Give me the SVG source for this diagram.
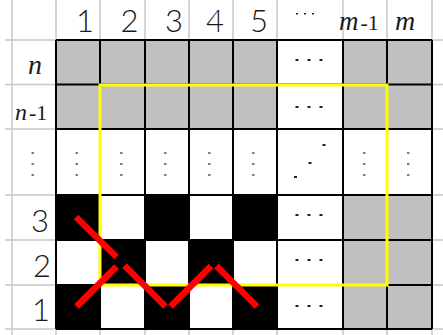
<svg xmlns="http://www.w3.org/2000/svg" width="443" height="335" viewBox="0 0 443 335">
<style>
.g{fill:#c0c0c0}
.w{fill:#ffffff}
.b{fill:#000000}
.thin{stroke:#c8c8c8;stroke-width:1.5;fill:none}
.grid{stroke:#000;stroke-width:2;fill:none}
.dig{font-family:Lato,"Liberation Sans",Arial,sans-serif;font-weight:300;font-size:31px;fill:#1a1a1a;text-anchor:end}
.it{font-family:"Liberation Serif","Times New Roman",serif;font-style:italic;fill:#1a1a1a}
.sm{font-family:"Liberation Serif","Times New Roman",serif;fill:#1a1a1a}
.d3{fill:#222}
.dv{fill:#7a7a9a}
.red{stroke:#ff0000;stroke-width:6.5;stroke-linecap:butt;fill:none}
</style>
<rect x="0" y="0" width="443" height="335" fill="#fff"/>
<g id="sheet-gridlines" class="thin">
<path d="M12,0V335 M56,0V40 M100,0V40 M145,0V40 M189,0V40 M233,0V40 M277,0V40 M343,0V40 M387,0V40 M432,0V40
M56,329V335 M100,329V335 M145,329V335 M189,329V335 M233,329V335 M277,329V335 M343,329V335 M387,329V335 M432,329V335
M5,40H56 M5,84.5H56 M5,129H56 M5,195H56 M5,240H56 M5,285H56 M5,329H56
M432,40H443 M432,84.5H443 M432,129H443 M432,195H443 M432,240H443 M432,285H443 M432,329H443"/>
</g>
<g id="cells">
<g id="row-n">
<rect class="g" x="56" y="40" width="221" height="44.5"/>
<rect class="g" x="343" y="40" width="89" height="44.5"/>
</g>
<g id="row-n-1">
<rect class="g" x="56" y="84.5" width="221" height="44.5"/>
<rect class="g" x="343" y="84.5" width="89" height="44.5"/>
</g>
<g id="row-3">
<rect class="b" x="56" y="195" width="44" height="45"/>
<rect class="b" x="145" y="195" width="44" height="45"/>
<rect class="b" x="233" y="195" width="44" height="45"/>
<rect class="g" x="343" y="195" width="89" height="45"/>
</g>
<g id="row-2">
<rect class="b" x="100" y="240" width="45" height="45"/>
<rect class="b" x="189" y="240" width="44" height="45"/>
<rect class="g" x="343" y="240" width="89" height="45"/>
</g>
<g id="row-1">
<rect class="b" x="56" y="285" width="44" height="44"/>
<rect class="b" x="145" y="285" width="44" height="44"/>
<rect class="b" x="233" y="285" width="44" height="44"/>
<rect class="g" x="343" y="285" width="89" height="44"/>
</g>
</g>
<g id="cell-borders" class="grid">
<path d="M56,40H432 M56,84.5H432 M56,129H432 M56,195H432 M56,240H432 M56,285H432 M56,329H432
M56,40V329 M100,40V329 M145,40V329 M189,40V329 M233,40V329 M277,40V329 M343,40V329 M387,40V329 M432,40V329"/>
</g>
<g id="headers">
<text class="dig" x="94" y="32">1</text>
<text class="dig" x="138.5" y="32">2</text>
<text class="dig" x="183" y="32">3</text>
<text class="dig" x="224" y="32">4</text>
<text class="dig" x="268" y="32">5</text>
<rect class="d3" x="296" y="13" width="2" height="1.5"/>
<rect class="d3" x="304" y="13" width="2" height="1.5"/>
<rect class="d3" x="312" y="13" width="2" height="1.5"/>
<text x="339" y="30"><tspan class="it" font-size="27">m</tspan><tspan class="sm" font-size="22" dx="2">-1</tspan></text>
<text class="it" x="395" y="30" font-size="28">m</text>
<text class="it" x="28" y="74" font-size="28">n</text>
<text x="15" y="120"><tspan class="it" font-size="24">n</tspan><tspan class="sm" font-size="22" dx="2">-1</tspan></text>
<text class="dig" x="49" y="232">3</text>
<text class="dig" x="51" y="277">2</text>
<text class="dig" x="50" y="321">1</text>
</g>
<g id="ellipses">
<rect class="d3" x="295.5" y="59" width="3" height="2"/><rect class="d3" x="307.5" y="59" width="3" height="2"/><rect class="d3" x="319.5" y="59" width="3" height="2"/>
<rect class="d3" x="295.5" y="106" width="3" height="2"/><rect class="d3" x="307.5" y="106" width="3" height="2"/><rect class="d3" x="319.5" y="106" width="3" height="2"/>
<rect class="d3" x="295.5" y="214" width="3" height="2"/><rect class="d3" x="307.5" y="214" width="3" height="2"/><rect class="d3" x="319.5" y="214" width="3" height="2"/>
<rect class="d3" x="295.5" y="259" width="3" height="2"/><rect class="d3" x="307.5" y="259" width="3" height="2"/><rect class="d3" x="319.5" y="259" width="3" height="2"/>
<rect class="d3" x="295.5" y="305" width="3" height="2"/><rect class="d3" x="307.5" y="305" width="3" height="2"/><rect class="d3" x="319.5" y="305" width="3" height="2"/>
<rect class="d3" x="294" y="176" width="3" height="2"/><rect class="d3" x="308.5" y="162" width="3" height="2"/><rect class="d3" x="322.5" y="144" width="3" height="2"/>
<g class="dv">
<rect x="31.5" y="152" width="2.5" height="2"/><rect x="31.5" y="163" width="2.5" height="2"/><rect x="31.5" y="174" width="2.5" height="2"/>
<rect x="75.5" y="152" width="2.5" height="2"/><rect x="75.5" y="163" width="2.5" height="2"/><rect x="75.5" y="174" width="2.5" height="2"/>
<rect x="120" y="152" width="2.5" height="2"/><rect x="120" y="163" width="2.5" height="2"/><rect x="120" y="174" width="2.5" height="2"/>
<rect x="164" y="152" width="2.5" height="2"/><rect x="164" y="163" width="2.5" height="2"/><rect x="164" y="174" width="2.5" height="2"/>
<rect x="208" y="152" width="2.5" height="2"/><rect x="208" y="163" width="2.5" height="2"/><rect x="208" y="174" width="2.5" height="2"/>
<rect x="252" y="152" width="2.5" height="2"/><rect x="252" y="163" width="2.5" height="2"/><rect x="252" y="174" width="2.5" height="2"/>
<rect x="363" y="152" width="2.5" height="2"/><rect x="363" y="163" width="2.5" height="2"/><rect x="363" y="174" width="2.5" height="2"/>
<rect x="407" y="152" width="2.5" height="2"/><rect x="407" y="163" width="2.5" height="2"/><rect x="407" y="174" width="2.5" height="2"/>
</g>
</g>
<g id="yellow-frame">
<rect x="100" y="85" width="287" height="200" fill="none" stroke="#ffff00" stroke-width="3"/>
</g>
<g id="connectors" class="red">
<line x1="76" y1="217" x2="116.5" y2="257"/>
<line x1="76.5" y1="306.5" x2="116.5" y2="266.5"/>
<line x1="124.5" y1="265.5" x2="165.5" y2="306.5"/>
<line x1="170.5" y1="306.5" x2="211" y2="266"/>
<line x1="216.5" y1="266" x2="257" y2="306.5"/>
</g>
</svg>
